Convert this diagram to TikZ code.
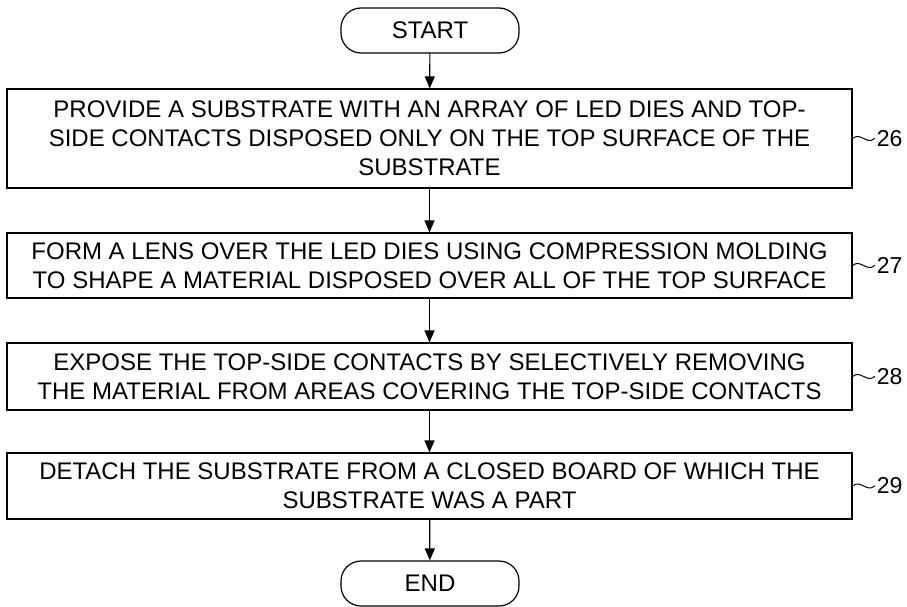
\documentclass[tikz,border=0pt]{standalone}
\usepackage{fontspec}
\setmainfont{Liberation Sans}
\usetikzlibrary{arrows.meta,positioning}
\tikzset{stepbox/.style={rectangle,draw,line width=1.2pt,minimum width=845pt,inner sep=0pt,align=center,font=\fontsize{24}{29}\selectfont},terminal/.style={rectangle,rounded corners=20pt,draw,line width=1.2pt,minimum width=178pt,minimum height=45pt,inner sep=0pt,font=\fontsize{24}{29}\selectfont},flow/.style={-{Triangle[length=12pt,width=10pt]},line width=1.2pt},refnum/.style={font=\fontsize{23}{27}\selectfont,inner sep=2pt},tilde/.style={line width=1pt},every picture/.style={line cap=round}}

\begin{document}
\begin{tikzpicture}[x=1pt,y=1pt]
\useasboundingbox (0,0) rectangle (907,-607);
\node[terminal] (start) at (430,-30.5) {START};
\node[stepbox,minimum height=99pt] (s26) at (429.5,-138.5) {PROVIDE A SUBSTRATE WITH AN ARRAY OF LED DIES AND TOP-\\SIDE CONTACTS DISPOSED ONLY ON THE TOP SURFACE OF THE\\SUBSTRATE};
\node[stepbox,minimum height=65pt] (s27) at (429.5,-265.5) {FORM A LENS OVER THE LED DIES USING COMPRESSION MOLDING\\TO SHAPE A MATERIAL DISPOSED OVER ALL OF THE TOP SURFACE};
\node[stepbox,minimum height=67pt] (s28) at (429.5,-376.5) {EXPOSE THE TOP-SIDE CONTACTS BY SELECTIVELY REMOVING\\THE MATERIAL FROM AREAS COVERING THE TOP-SIDE CONTACTS};
\node[stepbox,minimum height=66pt] (s29) at (429.5,-486) {DETACH THE SUBSTRATE FROM A CLOSED BOARD OF WHICH THE\\SUBSTRATE WAS A PART};
\node[terminal] (end) at (430,-583.5) {END};
\foreach \a/\b in {start/s26,s26/s27,s27/s28,s28/s29,s29/end}{\draw[flow] (\a)--(\b);}
\foreach \i in {26,...,29}{
  \node[refnum,anchor=west] (r\i) at ([xshift=22pt]s\i.east) {\i};
  \draw[tilde] (s\i.east) .. controls +(8pt,7pt) and +(-8pt,-7pt) .. (r\i.west);
}
\end{tikzpicture}
\end{document}
